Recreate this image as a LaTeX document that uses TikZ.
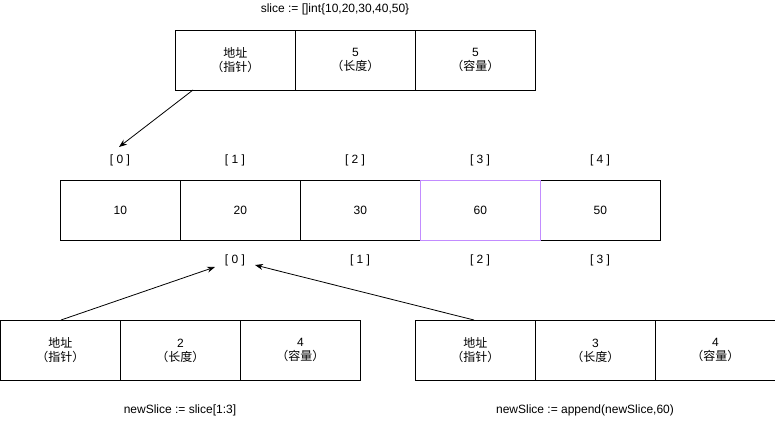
\documentclass[tikz,border=0pt]{standalone}
\usepackage{fontspec}
\setmainfont{Liberation Sans}
\newfontfamily\cjk{Noto Sans CJK SC}
\usetikzlibrary{arrows.meta}
\definecolor{violetb}{HTML}{C28CFF}
\tikzset{
  cell/.style={draw=black, line width=0.8pt, minimum width=120pt, minimum height=60pt, inner sep=0pt, align=center, font=\fontsize{12pt}{14pt}\selectfont, anchor=north west},
  lbl/.style={font=\fontsize{12pt}{14pt}\selectfont, inner sep=0pt},
  arr/.style={draw=black, line width=0.8pt, -{Stealth[length=8pt,width=6pt]}}
}
\newcommand{\addr}{{\cjk 地址}\\{\cjk （指针）}}
\begin{document}
\begin{tikzpicture}[x=1pt,y=-1pt]
\useasboundingbox (0,0) rectangle (775,421);
% top slice header
\node[lbl] (t0) at (335,9) {slice := []int\{10,20,30,40,50\}};
\node[cell] (a1) at (175,30) {\addr};
\node[cell] (a2) at (295,30) {5\\{\cjk （长度）}};
\node[cell] (a3) at (415,30) {5\\{\cjk （容量）}};
% index labels top
\node[lbl] (i0) at (120,160) {[ 0 ]};
\node[lbl] (i1) at (235,160) {[ 1 ]};
\node[lbl] (i2) at (355,160) {[ 2 ]};
\node[lbl] (i3) at (480,160) {[ 3 ]};
\node[lbl] (i4) at (600,160) {[ 4 ]};
% array
\node[cell] (c0) at (60,180) {10};
\node[cell] (c1) at (180,180) {20};
\node[cell] (c2) at (300,180) {30};
\node[cell] (c4) at (540,180) {50};
\node[cell, draw=violetb] (c3) at (420,180) {60};
% index labels bottom
\node[lbl] (j0) at (235,260) {[ 0 ]};
\node[lbl] (j1) at (360,260) {[ 1 ]};
\node[lbl] (j2) at (480,260) {[ 2 ]};
\node[lbl] (j3) at (600,260) {[ 3 ]};
% bottom left
\node[cell] (b1) at (0,320) {\addr};
\node[cell] (b2) at (120,320) {2\\{\cjk （长度）}};
\node[cell] (b3) at (240,320) {4\\{\cjk （容量）}};
\node[lbl] (bl) at (180,410) {newSlice := slice[1:3]};
% bottom right
\node[cell] (d1) at (415,320) {\addr};
\node[cell] (d2) at (535,320) {3\\{\cjk （长度）}};
\node[cell] (d3) at (655,320) {4\\{\cjk （容量）}};
\node[lbl] (dl) at (585,410) {newSlice := append(newSlice,60)};
% arrows
\coordinate (p1) at (193,90);
\coordinate (q1) at (119,147);
\coordinate (p2) at (61,320);
\coordinate (q2) at (215,267);
\coordinate (p3) at (474,320);
\coordinate (q3) at (255,265);
\draw[arr] (p1) -- (q1);
\draw[arr] (p2) -- (q2);
\draw[arr] (p3) -- (q3);
\end{tikzpicture}
\end{document}
